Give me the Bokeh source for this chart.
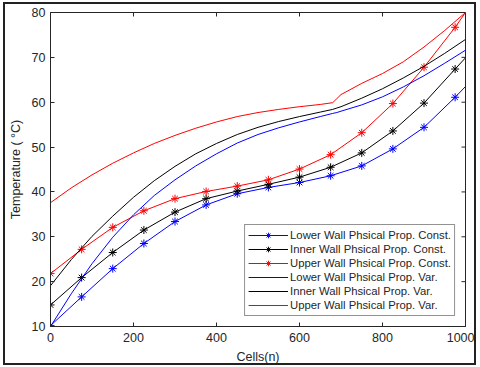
import math
from bokeh.plotting import figure
from bokeh.models import Legend, LegendItem, FixedTicker, Range1d
from bokeh.embed import file_html
from bokeh.resources import INLINE

# ---- data ----
cells_const = [0, 75, 150, 225, 300, 375, 450, 525, 600, 675, 750, 825, 900, 975, 1000]
marker_cells = [0, 75, 150, 225, 300, 375, 450, 525, 600, 675, 750, 825, 900, 975]
lower_const = [10.2, 16.6, 22.9, 28.5, 33.4, 37.1, 39.6, 41.0, 42.1, 43.6, 45.8, 49.6, 54.4, 61.1, 63.5]
inner_const = [14.8, 20.9, 26.5, 31.5, 35.5, 38.5, 40.2, 41.7, 43.3, 45.5, 48.7, 53.6, 59.8, 67.4, 69.9]
upper_const = [21.8, 27.2, 32.1, 35.8, 38.5, 40.1, 41.3, 42.7, 45.1, 48.3, 53.2, 59.7, 67.8, 76.7, 80.0]

cells_var = [0, 50, 100, 150, 200, 250, 300, 350, 400, 450, 500, 550, 600, 650, 680, 690, 700, 750, 800, 850, 900, 950, 1000]
lower_var = [10.0, 17.3, 24.0, 29.9, 34.9, 39.2, 42.7, 45.8, 48.5, 50.9, 52.8, 54.3, 55.6, 56.8, 57.5, 57.7, 58.0, 59.4, 61.2, 63.4, 65.9, 68.7, 71.6]
inner_var = [19.1, 24.9, 30.1, 34.6, 38.8, 42.5, 45.7, 48.5, 50.8, 52.8, 54.4, 55.7, 56.8, 57.8, 58.4, 58.7, 59.0, 60.9, 63.0, 65.4, 68.0, 70.9, 74.0]
upper_var = [37.6, 40.9, 43.8, 46.4, 48.7, 50.8, 52.6, 54.2, 55.6, 56.8, 57.7, 58.4, 59.0, 59.5, 59.9, 60.8, 61.7, 64.2, 66.4, 69.0, 72.3, 76.0, 80.0]

x_ticks = [0, 200, 400, 600, 800, 1000]
y_ticks = [10, 20, 30, 40, 50, 60, 70, 80]

labels = [
    "Lower Wall Phsical Prop. Const.",
    "Inner Wall Phsical Prop. Const.",
    "Upper Wall Phsical Prop. Const.",
    "Lower Wall Phsical Prop. Var.",
    "Inner Wall Phsical Prop. Var.",
    "Upper Wall Phsical Prop. Var.",
]
colors = ["#0000ff", "#000000", "#ff0000"]

FONT = "Liberation Sans"
AX = "#262626"

x_range = Range1d(0, 1000)
y_range = Range1d(10, 80)

p = figure(width=473, height=363, output_backend="svg", toolbar_location=None,
           x_range=x_range, y_range=y_range,
           min_border_left=43, min_border_right=13, min_border_top=8, min_border_bottom=41,
           background_fill_color="white", border_fill_color="white",
           styles={"margin-left": "3px", "margin-top": "2px", "border": "2px solid #222222"})

p.grid.visible = False
p.outline_line_color = AX
p.outline_line_width = 1

for ax, ticks in ((p.xaxis[0], x_ticks), (p.yaxis[0], y_ticks)):
    ax.ticker = FixedTicker(ticks=ticks)
    ax.major_tick_in = 4
    ax.major_tick_out = 0
    ax.minor_tick_line_color = None
    ax.axis_line_color = AX
    ax.major_tick_line_color = AX
    ax.major_label_text_font = FONT
    ax.major_label_text_font_size = "12.5px"
    ax.major_label_text_color = AX
    ax.axis_label_text_font = FONT
    ax.axis_label_text_font_size = "12.5px"
    ax.axis_label_text_font_style = "normal"
    ax.axis_label_text_color = AX

p.xaxis.axis_label = "Cells(n)"
p.yaxis.axis_label = "Temperature ( °C)"
p.xaxis.major_label_standoff = 6
p.yaxis.major_label_standoff = 5
p.yaxis.axis_label_standoff = 6

# mirrored inward ticks on the top and right edges of the box
p.ray(x=x_ticks, y=[y_range.end] * len(x_ticks), length=4, length_units="screen",
      angle=-math.pi / 2, line_color=AX, line_width=1)
p.ray(x=[x_range.end] * len(y_ticks), y=y_ticks, length=4, length_units="screen",
      angle=math.pi, line_color=AX, line_width=1)

items = []
const_series = [lower_const, inner_const, upper_const]
for ys, c, lab in zip(const_series, colors, labels[:3]):
    ln = p.line(cells_const, ys, line_color=c, line_width=1)
    mk = p.scatter(marker_cells, ys[:len(marker_cells)], marker="asterisk", size=8,
                   line_color=c, line_width=1)
    items.append(LegendItem(label=lab, renderers=[ln, mk]))

var_series = [lower_var, inner_var, upper_var]
for ys, c, lab in zip(var_series, colors, labels[3:]):
    ln = p.line(cells_var, ys, line_color=c, line_width=1)
    items.append(LegendItem(label=lab, renderers=[ln]))

legend = Legend(items=items, location="bottom_right", margin=10, padding=3, spacing=0,
                glyph_width=40, glyph_height=14, label_height=14, label_standoff=2,
                label_text_font=FONT, label_text_font_size="11.3px", label_text_color=AX,
                border_line_color=AX, border_line_width=1, background_fill_color="white",
                background_fill_alpha=1)
p.add_layout(legend)

open("out.html", "w").write(file_html(p, INLINE))
